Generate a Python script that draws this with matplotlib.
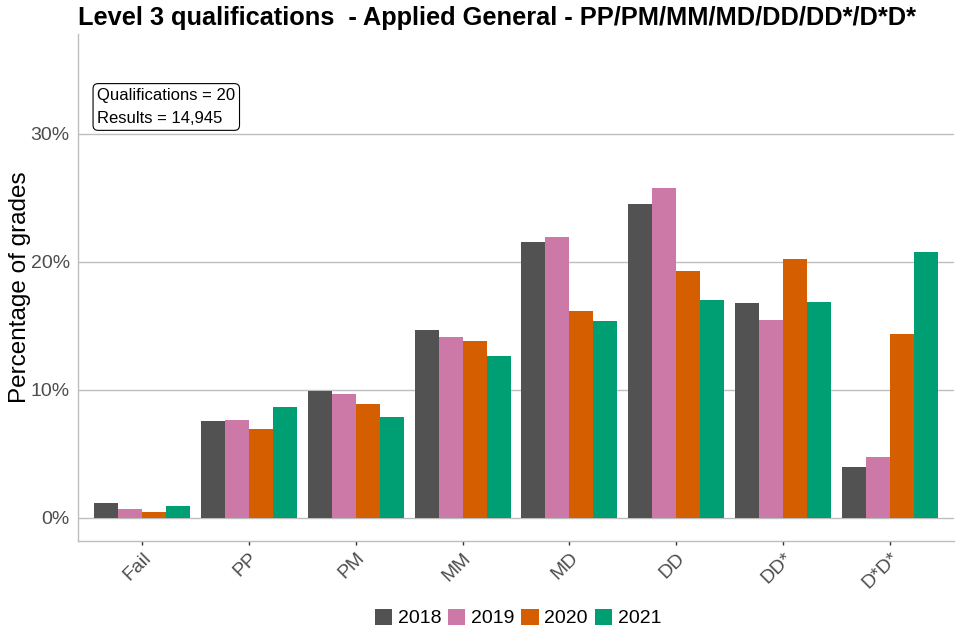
import numpy as np
import matplotlib
matplotlib.use("Agg")
from matplotlib import pyplot as plt
from matplotlib import transforms

plt.rcParams['font.family'] = ['Liberation Sans', 'DejaVu Sans']

grades = ["Fail", "PP", "PM", "MM", "MD", "DD", "DD*", "D*D*"]
years = ["2018", "2019", "2020", "2021"]
pct_2018 = [1.2, 7.6, 9.95, 14.7, 21.55, 24.55, 16.8, 4.0]
pct_2019 = [0.73, 7.68, 9.72, 14.15, 21.95, 25.8, 15.5, 4.78]
pct_2020 = [0.49, 6.98, 8.93, 13.85, 16.2, 19.3, 20.25, 14.4]
pct_2021 = [0.96, 8.7, 7.9, 12.67, 15.4, 17.05, 16.88, 20.8]
colours = ["#525252", "#CC79A7", "#D55E00", "#009E73"]

title = "Level 3 qualifications  - Applied General - PP/PM/MM/MD/DD/DD*/D*D*"
note = "Qualifications = 20\nResults = 14,945"

fig = plt.figure(figsize=(9.6, 6.4), dpi=100)
ax = fig.add_axes([78 / 960, 1 - 541 / 640, (954 - 78) / 960, (541 - 34) / 640])

x = np.arange(1, len(grades) + 1)
bar_w = 0.225
series = [pct_2018, pct_2019, pct_2020, pct_2021]
for i, (yr, vals) in enumerate(zip(years, series)):
    ax.bar(x + (i - 1.5) * bar_w, vals, width=bar_w, color=colours[i], label=yr, zorder=3)

ax.set_xlim(0.4, 8.6)
ax.set_ylim(-1.8, 37.8)
ax.set_yticks([0, 10, 20, 30])
ax.set_yticklabels(["0%", "10%", "20%", "30%"])
ax.set_xticks(x)
ax.set_xticklabels(grades, rotation=45, ha="right", rotation_mode="anchor")
# nudge the rotated labels a bit to the right, like the ggplot original
shift = transforms.ScaledTranslation(8 / 100, 0, fig.dpi_scale_trans)
for lbl in ax.get_xticklabels():
    lbl.set_transform(lbl.get_transform() + shift)

ax.grid(axis="y", color="#bebebe", linewidth=1, zorder=0)
ax.grid(axis="x", visible=False)
for side in ["top", "right"]:
    ax.spines[side].set_visible(False)
for side in ["left", "bottom"]:
    ax.spines[side].set_color("#bebebe")
    ax.spines[side].set_linewidth(1)

ax.tick_params(axis="y", length=0, pad=6, labelsize=14, labelcolor="#4d4d4d")
ax.tick_params(axis="x", length=3, width=1, color="#333333", pad=3, labelsize=14,
               labelcolor="#4d4d4d")

ax.set_ylabel("Percentage of grades", fontsize=17.5, color="black", labelpad=0)

ax.text(0.58, 32.1, note, fontsize=12, ha="left", va="center", linespacing=1.7,
        bbox=dict(boxstyle="round,pad=0.25,rounding_size=0.3", fc="white", ec="black", lw=0.8),
        zorder=5)

fig.text(78 / 960, 1 - 25 / 640, title, fontsize=18.25, fontweight="bold", ha="left",
         va="baseline")

fig.legend(loc="center", bbox_to_anchor=(518 / 960, 1 - 618 / 640), ncol=4, frameon=False,
           fontsize=14, handlelength=0.88, handleheight=0.88, handletextpad=0.3,
           columnspacing=0.36, borderaxespad=0)

fig.savefig("out.png", dpi=100)
